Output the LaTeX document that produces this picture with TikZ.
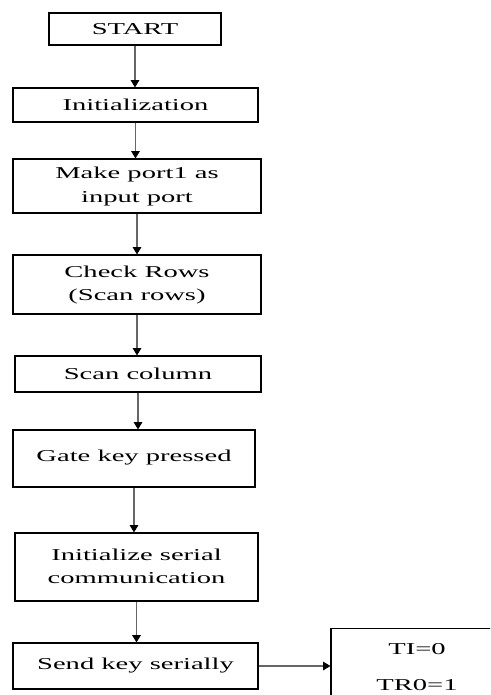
\documentclass[tikz,border=0pt]{standalone}
\usepackage{fontspec}
\setmainfont{Liberation Serif}
\usetikzlibrary{arrows.meta}
\newcommand{\wide}[1]{\scalebox{1.72}[1]{#1}}
\newcommand{\twolines}[2]{\scalebox{1.72}[1]{\begin{tabular}{@{}c@{}}#1\\#2\end{tabular}}}
\begin{document}
\begin{tikzpicture}[x=0.75pt, y=-0.75pt,
    flowbox/.style 2 args={draw, line width=0.9pt, inner sep=0pt,
        minimum width=#1*0.75pt, minimum height=#2*0.75pt,
        font=\fontsize{12.45}{17.5}\selectfont},
    flowline/.style={draw=black!60, line width=0.8pt,
        -{Triangle[width=6.5pt,length=5.5pt,color=black]}}]
    \useasboundingbox (0,0) rectangle (490,695);
    \clip (0,0) rectangle (490,695);

    \node[flowbox={172}{32}] (start) at (135,29) {\wide{START}};
    \node[flowbox={245}{34}] (init) at (135.5,105) {\wide{Initialization}};
    \node[flowbox={248}{54}] (port) at (137,186) {\twolines{Make port1 as}{input port}};
    \node[flowbox={248}{59}] (rows) at (137,284.5) {\twolines{Check Rows}{(Scan rows)}};
    \node[flowbox={246}{36}] (cols) at (138,374) {\wide{Scan column}};
    \node[flowbox={242}{57}] (gate) at (134,458.5) {\raisebox{4pt}{\wide{Gate key pressed}}};
    \node[flowbox={243}{68}] (serial) at (136.5,567)
        {\raisebox{4pt}{\twolines{Initialize serial}{communication}}};
    \node[flowbox={245}{46}] (send) at (135.5,666) {\wide{Send key serially}};
    \node[flowbox={172}{68}] (flags) at (417,665)
        {\renewcommand{\arraystretch}{1.55}\twolines{TI=0}{TR0=1}};

    \draw[flowline] (start.south) -- (start.south |- init.north);
    \draw[flowline] (init.south) -- (init.south |- port.north);
    \draw[flowline] (port.south) -- (port.south |- rows.north);
    \draw[flowline] (rows.south) -- (rows.south |- cols.north);
    \draw[flowline] (cols.south) -- (cols.south |- gate.north);
    \draw[flowline] (gate.south) -- (gate.south |- serial.north);
    \draw[flowline] (serial.south) -- (serial.south |- send.north);
    \draw[flowline] (send.east) -- (send.east -| flags.west);
\end{tikzpicture}
\end{document}
